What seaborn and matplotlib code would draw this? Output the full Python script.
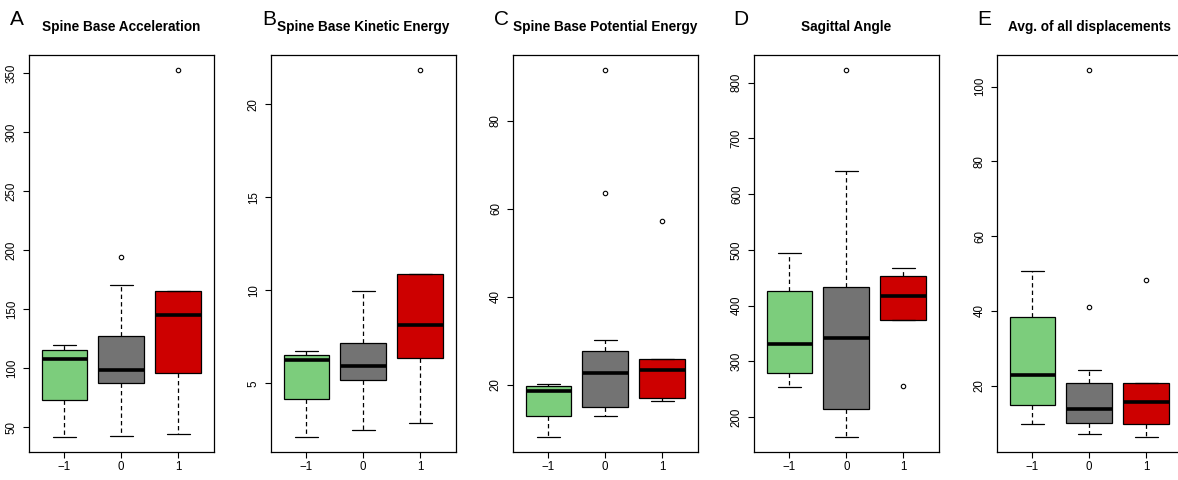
import numpy as np
import pandas as pd
import seaborn as sns
import matplotlib
matplotlib.use('Agg')
import matplotlib.pyplot as plt

# values (five-number summary + outliers per group)
groups = ['\u22121', '0', '1']
colors = ['#7CCD7C', '#737373', '#CD0000']
letters = ['A', 'B', 'C', 'D', 'E']
titles = ['Spine Base Acceleration', 'Spine Base Kinetic Energy',
          'Spine Base Potential Energy', 'Sagittal Angle', 'Avg. of all displacements']

whisker_lo = [[41.5, 42.7, 44.1], [2.10, 2.51, 2.85], [8.1, 12.9, 16.4],
              [253.8, 164.0, 375.0], [9.8, 7.2, 6.2]]
q1 = [[73.2, 87.9, 95.8], [4.14, 5.16, 6.38], [13.0, 15.0, 17.1],
      [278.9, 214.3, 375.0], [14.8, 10.1, 9.8]]
medians = [[108.2, 98.3, 145.3], [6.26, 5.91, 8.14], [18.7, 22.6, 23.4],
           [332.0, 341.6, 418.0], [22.9, 13.8, 15.7]]
q3 = [[115.6, 127.1, 165.3], [6.54, 7.19, 10.86], [19.8, 27.7, 25.9],
      [427.0, 433.7, 452.7], [38.4, 20.6, 20.7]]
whisker_hi = [[119.5, 170.7, 165.3], [6.76, 9.98, 10.86], [20.1, 30.3, 25.9],
              [494.7, 641.0, 467.0], [50.6, 24.1, 20.7]]
outliers = [[[], [194.0], [352.9]], [[], [], [21.85]], [[], [63.5, 91.6], [57.3]],
            [[], [823.0], [256.0]], [[], [41.1, 104.5], [48.3]]]
yticks = [[50, 100, 150, 200, 250, 300, 350], [5, 10, 15, 20], [20, 40, 60, 80],
          [200, 300, 400, 500, 600, 700, 800], [20, 40, 60, 80, 100]]

# pixel layout of the reference
W, H = 1178, 480
ax_left = [29, 271, 513, 754, 997]
letter_x = [10, 262, 494, 733, 977]
ax_w, ax_top, ax_bot = 184.5, 55, 452


def sample(lo, a, m, b, hi, outs):
    # rebuild a small sample whose quartiles equal the read values
    below = [v for v in outs if v < a] + ([lo] if lo < a else [])
    above = ([hi] if hi > b else []) + [v for v in outs if v > b]
    k = max(1, len(below), len(above))
    vals = sorted(below) + [a] * (k - len(below)) + [a] + [a] * (k - 1) + [m] \
        + [m] * (k - 1) + [b] + [b] * (k - len(above)) + sorted(above)
    return vals


sns.set_style('ticks')
plt.rcParams['font.family'] = ['Liberation Sans', 'DejaVu Sans']
plt.rcParams['axes.edgecolor'] = 'black'
plt.rcParams['axes.linewidth'] = 0.9
plt.rcParams['xtick.color'] = 'black'
plt.rcParams['ytick.color'] = 'black'
plt.rcParams['text.color'] = 'black'
plt.rcParams['axes.titlecolor'] = 'black'

fig = plt.figure(figsize=(W / 100, H / 100), dpi=100)

for i in range(5):
    rows = []
    for j, g in enumerate(groups):
        for v in sample(whisker_lo[i][j], q1[i][j], medians[i][j], q3[i][j],
                        whisker_hi[i][j], outliers[i][j]):
            rows.append({'group': g, 'value': v})
    df = pd.DataFrame(rows)

    ax = fig.add_axes([ax_left[i] / W, (H - ax_bot) / H, ax_w / W, (ax_bot - ax_top) / H])
    sns.boxplot(data=df, x='group', y='value', hue='group', order=groups,
                hue_order=groups, palette=colors, saturation=1, width=0.8,
                linecolor='black', linewidth=0.9, legend=False, ax=ax,
                whiskerprops={'linestyle': (0, (3.5, 2.5))},
                medianprops={'linewidth': 2.6, 'color': 'black'},
                flierprops={'marker': 'o', 'markerfacecolor': 'none',
                            'markeredgecolor': 'black', 'markersize': 3.2,
                            'markeredgewidth': 0.8})

    vmin, vmax = df['value'].min(), df['value'].max()
    pad = 0.04 * (vmax - vmin)
    ax.set_ylim(vmin - pad, vmax + pad)
    ax.set_xlim(-0.62, 2.62)
    ax.set_yticks(yticks[i])
    ax.set_yticklabels([str(t) for t in yticks[i]], rotation=90, va='center')
    ax.set_xlabel('')
    ax.set_ylabel('')
    for s in ax.spines.values():
        s.set_visible(True)
    ax.tick_params(axis='both', direction='out', length=4.5, width=0.8,
                   labelsize=8.3)
    ax.tick_params(axis='x', pad=2)
    ax.tick_params(axis='y', pad=3.5)
    ax.set_title(titles[i], fontsize=9.8, fontweight='bold', pad=17)

    fig.text(letter_x[i] / W, (H - 25) / H, letters[i], fontsize=15,
             ha='left', va='baseline')

fig.savefig('out.png', dpi=100)
